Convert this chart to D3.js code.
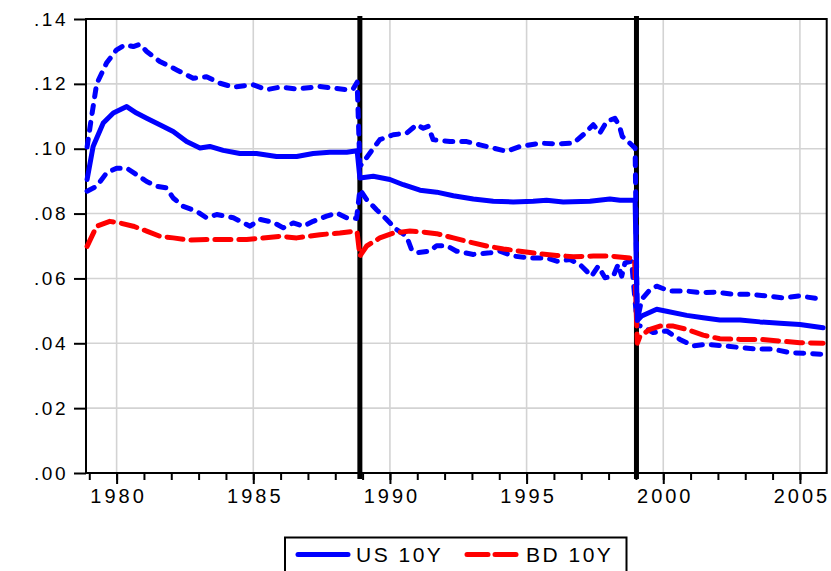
<!DOCTYPE html>
<html>
<head>
<meta charset="utf-8">
<script src="https://cdn.jsdelivr.net/npm/d3@7"></script>
<style>
  html, body { margin: 0; padding: 0; background: #fff; }
  svg { display: block; font-family: "Liberation Sans", Arial, sans-serif; }
</style>
</head>
<body>
<svg id="chart" width="831" height="571"></svg>
<script>
// values: [decimal year, yield]
const usMid = [
  [1978.92, 0.0905], [1979.14, 0.1007], [1979.51, 0.1079], [1979.88, 0.1110], [1980.37, 0.1130],
  [1980.73, 0.1110], [1981.10, 0.1094], [1981.58, 0.1074], [1982.07, 0.1053], [1982.56, 0.1022],
  [1983.05, 0.1002], [1983.41, 0.1007], [1983.90, 0.0995], [1984.51, 0.0985], [1985.12, 0.0985],
  [1985.85, 0.0976], [1986.59, 0.0976], [1987.19, 0.0985], [1987.80, 0.0989], [1988.42, 0.0989],
  [1988.80, 0.0994],
  [1988.90, 0.0910], [1989.39, 0.0915], [1990.00, 0.0905], [1990.49, 0.0889], [1991.10, 0.0872],
  [1991.71, 0.0866], [1992.32, 0.0855], [1993.05, 0.0845], [1993.78, 0.0838], [1994.51, 0.0836],
  [1995.24, 0.0838], [1995.73, 0.0841], [1996.34, 0.0836], [1997.32, 0.0838], [1998.05, 0.0845],
  [1998.42, 0.0841], [1998.97, 0.0841],
  [1999.05, 0.0470], [1999.21, 0.0484], [1999.76, 0.0505], [2000.12, 0.0499], [2000.86, 0.0486],
  [2001.46, 0.0479], [2002.07, 0.0472], [2002.81, 0.0472], [2003.54, 0.0466], [2004.27, 0.0462],
  [2005.00, 0.0458], [2005.85, 0.0448]
];

const usUpper = [
  [1978.92, 0.1005], [1979.05, 0.1080], [1979.27, 0.1200], [1979.63, 0.1264], [1980.00, 0.1305],
  [1980.30, 0.1320], [1980.61, 0.1315], [1980.85, 0.1322], [1981.10, 0.1300], [1981.58, 0.1269],
  [1982.20, 0.1243], [1982.80, 0.1217], [1983.29, 0.1222], [1983.78, 0.1202], [1984.27, 0.1190],
  [1985.00, 0.1197], [1985.49, 0.1182], [1985.98, 0.1190], [1986.59, 0.1184], [1987.44, 0.1192],
  [1987.93, 0.1187], [1988.42, 0.1182], [1988.66, 0.1185], [1988.80, 0.1205],
  [1988.90, 0.0946], [1989.01, 0.0957], [1989.27, 0.0987], [1989.63, 0.1028], [1990.12, 0.1043],
  [1990.61, 0.1048], [1990.98, 0.1074], [1991.22, 0.1063], [1991.40, 0.1069], [1991.58, 0.1028],
  [1992.20, 0.1022], [1992.81, 0.1022], [1993.29, 0.1012], [1993.78, 0.1002], [1994.27, 0.0992],
  [1994.76, 0.1007], [1995.49, 0.1017], [1996.10, 0.1015], [1996.71, 0.1017], [1997.07, 0.1043],
  [1997.44, 0.1074], [1997.68, 0.1048], [1997.93, 0.1084], [1998.23, 0.1094], [1998.40, 0.1069],
  [1998.50, 0.1038], [1998.78, 0.1017], [1998.97, 0.1002],
  [1999.05, 0.0470], [1999.21, 0.0535], [1999.51, 0.0565], [1999.76, 0.0576], [2000.24, 0.0561],
  [2000.86, 0.0561], [2001.34, 0.0556], [2001.95, 0.0558], [2002.56, 0.0551], [2003.17, 0.0551],
  [2003.78, 0.0546], [2004.39, 0.0540], [2005.00, 0.0546], [2005.61, 0.0538], [2005.85, 0.0538]
];

const usLower = [
  [1978.92, 0.0869], [1979.27, 0.0884], [1979.63, 0.0925], [1980.00, 0.0940], [1980.37, 0.0940],
  [1980.73, 0.0920], [1981.10, 0.0899], [1981.46, 0.0884], [1981.83, 0.0879], [1982.07, 0.0848],
  [1982.44, 0.0822], [1982.93, 0.0807], [1983.29, 0.0787], [1983.66, 0.0797], [1984.27, 0.0787],
  [1984.88, 0.0761], [1985.24, 0.0782], [1985.73, 0.0773], [1986.10, 0.0756], [1986.46, 0.0771],
  [1986.83, 0.0761], [1987.19, 0.0776], [1987.68, 0.0792], [1988.05, 0.0802], [1988.42, 0.0787],
  [1988.78, 0.0785],
  [1988.90, 0.0874], [1989.15, 0.0843], [1989.51, 0.0812], [1989.88, 0.0782], [1990.24, 0.0751],
  [1990.61, 0.0730], [1990.79, 0.0689], [1990.98, 0.0679], [1991.46, 0.0684], [1991.71, 0.0701],
  [1992.07, 0.0701], [1992.44, 0.0684], [1993.05, 0.0674], [1993.66, 0.0679], [1994.02, 0.0684],
  [1994.51, 0.0669], [1995.12, 0.0663], [1995.73, 0.0663], [1996.10, 0.0653], [1996.59, 0.0658],
  [1996.95, 0.0643], [1997.38, 0.0607], [1997.62, 0.0638], [1997.87, 0.0602], [1998.17, 0.0607],
  [1998.35, 0.0643], [1998.48, 0.0607], [1998.60, 0.0648], [1998.84, 0.0653],
  [1999.05, 0.0455], [1999.21, 0.0453], [1999.63, 0.0433], [2000.12, 0.0438], [2000.61, 0.0412],
  [2001.10, 0.0392], [2001.59, 0.0397], [2002.20, 0.0392], [2002.81, 0.0387], [2003.42, 0.0382],
  [2004.02, 0.0382], [2004.63, 0.0371], [2005.25, 0.0369], [2005.85, 0.0366]
];

const bd = [
  [1978.92, 0.0699], [1979.27, 0.0761], [1979.75, 0.0776], [1980.12, 0.0771], [1980.61, 0.0761],
  [1981.10, 0.0746], [1981.58, 0.0730], [1982.07, 0.0725], [1982.68, 0.0718], [1983.29, 0.0720],
  [1984.02, 0.0720], [1984.76, 0.0720], [1985.36, 0.0725], [1985.98, 0.0730], [1986.59, 0.0725],
  [1987.44, 0.0735], [1988.17, 0.0740], [1988.72, 0.0746], [1988.80, 0.0742],
  [1988.90, 0.0669], [1989.15, 0.0700], [1989.63, 0.0725], [1990.12, 0.0740], [1990.73, 0.0746],
  [1991.22, 0.0743], [1991.71, 0.0738], [1992.32, 0.0725], [1992.93, 0.0712], [1993.54, 0.0700],
  [1994.15, 0.0691], [1994.76, 0.0684], [1995.37, 0.0677], [1996.10, 0.0671], [1996.71, 0.0667],
  [1997.44, 0.0669], [1998.05, 0.0669], [1998.78, 0.0663], [1998.95, 0.0660],
  [1999.05, 0.0400], [1999.15, 0.0422], [1999.51, 0.0443], [1999.88, 0.0453], [2000.37, 0.0453],
  [2000.86, 0.0443], [2001.46, 0.0425], [2002.07, 0.0414], [2002.81, 0.0412], [2003.54, 0.0412],
  [2004.27, 0.0407], [2005.00, 0.0402], [2005.85, 0.0400]
];

const breaks = [1988.9, 1999.02];
const yTicks = [0, 0.02, 0.04, 0.06, 0.08, 0.10, 0.12, 0.14];
const majorYears = [1980, 1985, 1990, 1995, 2000, 2005];
const minorYears = d3.range(1979, 2006);
const legendLabels = ['US 10Y', 'BD 10Y'];

const svg = d3.select('#chart');
const plot = { left: 86, top: 19, right: 826.7, bottom: 473 };

const x = d3.scaleLinear().domain([1978.88, 2005.98]).range([plot.left, plot.right]);
const y = d3.scaleLinear().domain([0, 0.14]).range([plot.bottom, plot.top]);

const line = d3.line().x((d) => x(d[0])).y((d) => y(d[1]));

// gridlines
const grid = svg.append('g').attr('stroke', '#d3d3d3').attr('stroke-width', 1.6);
grid.selectAll('.vg').data(majorYears).join('line')
  .attr('x1', (d) => x(d)).attr('x2', (d) => x(d))
  .attr('y1', plot.top).attr('y2', plot.bottom);
grid.selectAll('.hg').data(yTicks.slice(1, -1)).join('line')
  .attr('x1', plot.left).attr('x2', plot.right)
  .attr('y1', (d) => y(d)).attr('y2', (d) => y(d));

// frame
svg.append('rect')
  .attr('x', plot.left).attr('y', plot.top)
  .attr('width', plot.right - plot.left).attr('height', plot.bottom - plot.top)
  .attr('fill', 'none').attr('stroke', '#000').attr('stroke-width', 2);

// axes
const yAxis = svg.append('g')
  .attr('transform', `translate(${plot.left},0)`)
  .call(d3.axisLeft(y).tickValues(yTicks).tickSize(12).tickPadding(6)
    .tickFormat((d) => d3.format('.2f')(d).replace(/^0/, '')));

const xMinor = svg.append('g')
  .attr('transform', `translate(0,${plot.bottom})`)
  .call(d3.axisBottom(x).tickValues(minorYears).tickSize(7).tickFormat(''));

const xMajor = svg.append('g')
  .attr('transform', `translate(0,${plot.bottom})`)
  .call(d3.axisBottom(x).tickValues(majorYears).tickSize(11).tickPadding(5).tickFormat(d3.format('d')));

[yAxis, xMinor, xMajor].forEach((a) => {
  a.select('.domain').remove();
  a.selectAll('.tick line').attr('stroke', '#000').attr('stroke-width', 2);
});
yAxis.selectAll('.tick text')
  .attr('font-size', 19).attr('letter-spacing', '2.5px').attr('fill', '#000')
  .attr('font-family', '"Liberation Sans", Arial, sans-serif');
xMajor.selectAll('.tick text')
  .attr('font-size', 20).attr('letter-spacing', '3px').attr('dx', '1.5px').attr('fill', '#000')
  .attr('font-family', '"Liberation Sans", Arial, sans-serif');

// regime break lines
svg.append('g').selectAll('line').data(breaks).join('line')
  .attr('x1', (d) => x(d)).attr('x2', (d) => x(d))
  .attr('y1', plot.top - 3).attr('y2', plot.bottom + 6)
  .attr('stroke', '#000').attr('stroke-width', 5);

// series
const blueDash = '8,9';
const redDash = '16,8';
[
  { data: usUpper, color: '#0000ff', dash: blueDash },
  { data: usLower, color: '#0000ff', dash: blueDash },
  { data: bd, color: '#ff0000', dash: redDash },
  { data: usMid, color: '#0000ff', dash: null }
].forEach((s) => {
  svg.append('path')
    .datum(s.data)
    .attr('d', line)
    .attr('fill', 'none')
    .attr('stroke', s.color)
    .attr('stroke-width', 5)
    .attr('stroke-linecap', 'round')
    .attr('stroke-linejoin', 'round')
    .attr('stroke-dasharray', s.dash);
});

// legend
const legend = svg.append('g');
legend.append('rect')
  .attr('x', 285).attr('y', 537.5).attr('width', 341.5).attr('height', 40)
  .attr('fill', '#fff').attr('stroke', '#000').attr('stroke-width', 2);
legend.append('line')
  .attr('x1', 298).attr('x2', 348).attr('y1', 554.5).attr('y2', 554.5)
  .attr('stroke', '#0000ff').attr('stroke-width', 5).attr('stroke-linecap', 'round');
legend.append('line')
  .attr('x1', 467).attr('x2', 517).attr('y1', 554.5).attr('y2', 554.5)
  .attr('stroke', '#ff0000').attr('stroke-width', 5).attr('stroke-linecap', 'round')
  .attr('stroke-dasharray', '21,7');
legend.selectAll('text').data(legendLabels).join('text')
  .attr('x', (d, i) => (i === 0 ? 356 : 526))
  .attr('y', 562)
  .attr('font-size', 21)
  .attr('letter-spacing', '2.5px')
  .attr('fill', '#000')
  .text((d) => d);
</script>
</body>
</html>
